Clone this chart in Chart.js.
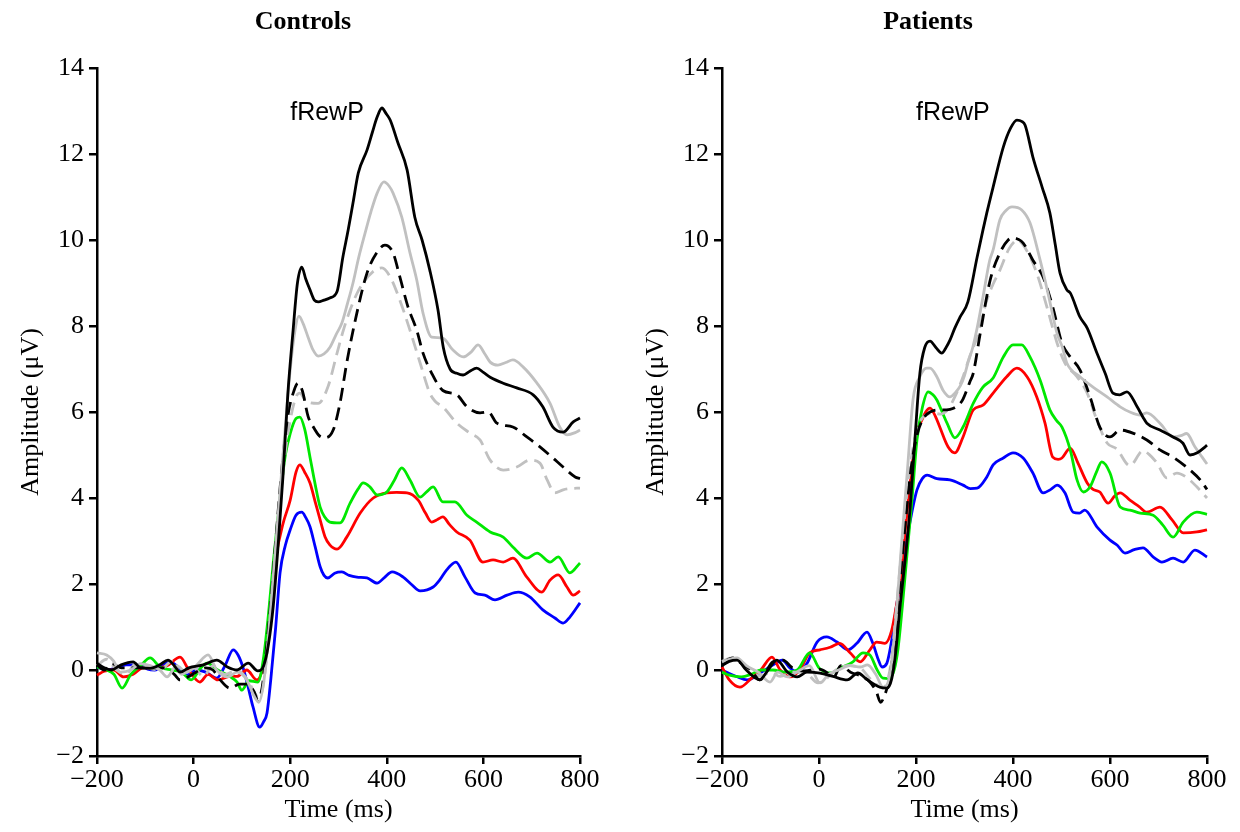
<!DOCTYPE html>
<html><head><meta charset="utf-8">
<script src="https://cdn.jsdelivr.net/npm/chart.js@4"></script>
<style>
html,body{margin:0;padding:0;background:#fff;}
#wrap{position:relative;width:1240px;height:832px;overflow:hidden;}
.panel{position:absolute;top:0;width:620px;height:832px;}
canvas{display:block;}
</style></head><body>
<div id="wrap">
<div class="panel" style="left:0"><canvas id="c1" width="620" height="832"></canvas></div>
<div class="panel" style="left:620px"><canvas id="c2" width="620" height="832"></canvas></div>
</div>
<script>
// ---- axis ticks ----
const xTicks = [-200, 0, 200, 400, 600, 800];
const yTicks = [-2, 0, 2, 4, 6, 8, 10, 12, 14];
const panelTitles = ["Controls", "Patients"];
const componentLabel = "fRewP";
const componentLabelPos = [200, 12.8];

// ---- Controls: [time ms, amplitude µV] ----
const ctrlBlackSolid = [[-200,0.16],[-185,0.05],[-170,0.0],[-150,0.12],[-125,0.19],[-110,0.05],[-90,0.04],[-70,0.12],[-53,0.23],[-40,0.1],[-28,-0.05],[-10,0.05],[20,0.12],[48,0.23],[70,0.07],[90,0.0],[113,0.16],[133,-0.02],[145,0.1],[155,0.6],[165,1.5],[175,2.9],[185,4.5],[195,6.4],[206,7.9],[215,9.0],[224,9.37],[232,9.1],[241,8.84],[250,8.6],[258,8.56],[270,8.6],[282,8.65],[297,8.8],[309,9.6],[320,10.23],[330,10.86],[341,11.56],[359,12.09],[370,12.5],[380,12.86],[390,13.07],[398,12.95],[407,12.79],[423,12.26],[442,11.63],[458,10.53],[473,10.0],[489,9.3],[506,8.37],[517,7.5],[531,7.0],[545,6.9],[558,6.86],[572,6.95],[586,7.02],[600,6.92],[614,6.81],[641,6.67],[669,6.56],[703,6.4],[723,6.12],[744,5.65],[765,5.53],[786,5.77],[800,5.86]];
const ctrlGraySolid = [[-200,0.4],[-180,0.35],[-165,0.2],[-152,-0.05],[-130,0.0],[-110,0.15],[-90,0.1],[-70,0.0],[-55,-0.16],[-35,0.1],[-15,-0.05],[5,0.1],[30,0.35],[48,0.0],[70,-0.16],[90,-0.05],[110,-0.23],[125,-0.6],[135,-0.75],[145,-0.3],[155,0.8],[165,2.2],[175,3.6],[188,5.4],[200,6.98],[210,7.9],[218,8.23],[227,8.05],[237,7.74],[247,7.45],[258,7.3],[270,7.35],[282,7.5],[295,7.8],[307,8.07],[318,8.5],[330,9.0],[342,9.6],[355,10.16],[367,10.65],[380,11.09],[394,11.35],[405,11.25],[413,11.09],[431,10.53],[448,9.7],[462,9.07],[475,8.3],[493,7.74],[505,7.73],[516,7.72],[537,7.44],[558,7.28],[575,7.4],[589,7.56],[603,7.35],[614,7.16],[630,7.09],[646,7.15],[661,7.21],[682,7.05],[711,6.67],[738,6.2],[758,5.65],[773,5.47],[790,5.52],[800,5.58]];
const ctrlBlackDashed = [[-200,0.12],[-185,0.0],[-170,0.15],[-150,0.05],[-122,0.05],[-90,0.05],[-60,0.05],[-40,-0.1],[-28,-0.23],[-10,-0.15],[5,-0.05],[25,0.05],[40,0.0],[55,-0.23],[75,-0.42],[95,-0.33],[112,-0.33],[125,-0.5],[133,-0.7],[142,-0.4],[150,0.4],[160,1.6],[170,3.0],[182,4.6],[195,5.9],[208,6.5],[216,6.67],[225,6.5],[237,5.9],[248,5.65],[260,5.45],[272,5.4],[289,5.58],[303,6.2],[317,7.14],[338,8.3],[359,9.23],[380,9.72],[396,9.88],[413,9.7],[427,9.14],[444,8.44],[462,7.9],[475,7.37],[493,6.9],[516,6.5],[545,6.4],[566,6.12],[593,5.98],[610,6.0],[628,5.74],[661,5.65],[690,5.42],[717,5.19],[742,4.95],[765,4.72],[790,4.49],[800,4.45]];
const ctrlGrayDashed = [[-200,0.1],[-180,0.25],[-160,0.0],[-140,-0.1],[-120,0.15],[-95,0.05],[-70,0.0],[-45,0.2],[-25,-0.1],[0,0.05],[20,-0.15],[40,0.1],[65,-0.1],[90,0.0],[110,-0.2],[125,-0.5],[135,-0.65],[145,-0.3],[153,0.5],[163,1.8],[175,3.4],[188,4.9],[200,5.8],[212,6.35],[220,6.44],[230,6.3],[237,6.23],[258,6.2],[278,6.58],[297,7.37],[310,7.9],[324,8.37],[338,8.75],[351,9.0],[371,9.26],[390,9.35],[407,9.14],[427,8.6],[448,7.9],[469,7.14],[489,6.44],[500,6.25],[516,6.12],[545,5.74],[572,5.51],[593,5.35],[614,4.88],[641,4.65],[669,4.72],[696,4.88],[717,4.81],[732,4.42],[748,4.12],[765,4.19],[781,4.22],[800,4.23]];
const ctrlGreen = [[-200,0.07],[-180,0.0],[-165,-0.1],[-148,-0.42],[-130,-0.1],[-110,0.1],[-90,0.28],[-70,0.07],[-45,0.0],[-25,-0.05],[-5,-0.23],[15,0.05],[28,0.16],[50,0.0],[75,-0.15],[90,-0.28],[100,-0.47],[115,-0.25],[133,-0.28],[145,0.3],[155,1.3],[165,2.5],[178,3.9],[190,5.0],[200,5.5],[212,5.85],[220,5.88],[230,5.6],[241,4.95],[252,4.3],[262,3.79],[272,3.55],[282,3.44],[303,3.42],[324,3.88],[340,4.2],[351,4.35],[365,4.26],[380,4.07],[400,4.14],[415,4.4],[431,4.7],[448,4.42],[469,4.02],[483,4.15],[496,4.26],[516,3.91],[541,3.91],[566,3.6],[586,3.44],[614,3.21],[641,3.09],[661,2.86],[690,2.6],[711,2.72],[738,2.51],[755,2.63],[779,2.26],[800,2.49]];
const ctrlRed = [[-200,-0.12],[-185,-0.03],[-165,0.0],[-145,-0.16],[-125,-0.1],[-105,0.05],[-80,0.05],[-55,0.1],[-28,0.3],[-10,0.0],[13,-0.28],[30,-0.1],[50,-0.23],[75,-0.15],[90,-0.15],[110,0.0],[131,-0.23],[142,0.0],[150,0.6],[160,1.6],[170,2.6],[185,3.4],[200,3.95],[212,4.6],[220,4.77],[230,4.6],[241,4.35],[252,3.9],[262,3.49],[272,3.1],[282,2.91],[297,2.81],[317,3.09],[345,3.65],[372,4.0],[400,4.12],[420,4.13],[442,4.12],[465,3.95],[480,3.65],[493,3.44],[505,3.5],[516,3.56],[530,3.38],[545,3.21],[572,3.02],[599,2.51],[620,2.56],[641,2.51],[661,2.6],[690,2.16],[721,1.81],[738,2.09],[755,2.21],[773,1.93],[786,1.74],[800,1.84]];
const ctrlBlue = [[-200,0.07],[-180,0.0],[-160,0.05],[-140,0.12],[-111,0.12],[-95,0.02],[-80,0.0],[-65,0.1],[-49,0.19],[-30,0.05],[-14,-0.12],[5,0.0],[25,-0.05],[48,-0.19],[65,0.1],[82,0.47],[92,0.35],[102,0.07],[113,-0.4],[123,-0.86],[137,-1.33],[145,-1.2],[152,-1.0],[160,-0.2],[170,1.0],[179,2.26],[190,2.9],[200,3.26],[212,3.6],[224,3.67],[232,3.55],[241,3.33],[252,2.85],[262,2.4],[270,2.2],[278,2.14],[292,2.25],[307,2.28],[322,2.2],[338,2.16],[359,2.14],[380,2.02],[395,2.15],[411,2.28],[434,2.16],[450,2.0],[469,1.84],[496,1.93],[510,2.1],[524,2.33],[543,2.51],[562,2.16],[583,1.79],[603,1.74],[624,1.63],[649,1.74],[672,1.81],[696,1.7],[723,1.4],[748,1.21],[765,1.09],[779,1.23],[800,1.56]];

// ---- Patients: [time ms, amplitude µV] ----
const patBlackSolid = [[-200,0.1],[-185,0.2],[-169,0.23],[-150,0.0],[-122,-0.23],[-105,0.0],[-87,0.23],[-65,-0.05],[-45,-0.16],[-25,-0.05],[2,-0.07],[29,-0.15],[58,-0.23],[80,-0.07],[100,-0.23],[126,-0.4],[140,-0.42],[150,-0.2],[158,0.4],[167,1.47],[178,2.6],[188,3.79],[198,5.4],[208,6.9],[218,7.5],[229,7.65],[241,7.5],[253,7.37],[262,7.5],[270,7.67],[280,7.95],[291,8.21],[307,8.56],[326,9.6],[338,10.23],[346,10.63],[359,11.23],[380,12.16],[395,12.6],[408,12.79],[418,12.76],[425,12.67],[441,11.93],[460,11.23],[476,10.63],[487,9.9],[497,9.23],[511,8.84],[518,8.77],[538,8.21],[553,7.95],[573,7.37],[590,6.9],[606,6.44],[620,6.4],[635,6.47],[656,6.12],[668,5.88],[676,5.74],[703,5.58],[730,5.42],[750,5.28],[765,5.0],[780,5.05],[796,5.19],[800,5.23]];
const patGraySolid = [[-200,0.19],[-185,0.25],[-169,0.28],[-150,0.1],[-125,-0.05],[-101,-0.28],[-85,-0.05],[-65,-0.16],[-39,0.0],[-20,0.1],[2,-0.3],[20,-0.1],[40,0.0],[64,0.1],[85,0.07],[100,0.12],[117,-0.1],[132,-0.4],[142,-0.3],[150,0.2],[160,1.4],[170,2.9],[182,4.6],[194,6.3],[208,6.82],[222,7.02],[229,7.02],[243,6.82],[256,6.5],[270,6.35],[281,6.45],[291,6.6],[300,6.85],[307,7.14],[317,7.5],[326,7.95],[338,8.67],[352,9.53],[359,9.77],[373,10.47],[385,10.68],[398,10.77],[418,10.7],[435,10.4],[456,9.53],[472,8.77],[491,7.82],[502,7.5],[511,7.14],[538,6.82],[565,6.58],[594,6.35],[621,6.12],[641,6.0],[662,5.93],[676,5.98],[703,5.74],[730,5.42],[746,5.45],[758,5.5],[775,5.19],[790,4.95],[800,4.79]];
const patBlackDashed = [[-200,0.16],[-177,0.28],[-160,0.15],[-140,0.0],[-122,-0.23],[-95,0.19],[-74,0.23],[-55,0.05],[-30,-0.02],[0,0.02],[15,-0.05],[29,-0.19],[45,0.1],[65,-0.05],[88,-0.15],[105,-0.28],[118,-0.5],[127,-0.75],[135,-0.6],[145,-0.2],[155,0.6],[165,1.8],[177,3.3],[190,4.7],[203,5.5],[215,5.85],[229,6.0],[249,6.05],[264,6.05],[276,6.08],[291,6.2],[297,6.3],[311,6.7],[318,6.9],[332,7.8],[353,9.07],[373,9.7],[390,10.0],[400,10.05],[410,10.02],[421,9.93],[441,9.53],[462,9.14],[482,8.44],[501,7.6],[518,7.28],[538,6.98],[559,6.35],[579,5.65],[600,5.42],[621,5.58],[647,5.51],[676,5.35],[703,5.12],[730,4.95],[765,4.65],[786,4.42],[800,4.2]];
const patGrayDashed = [[-200,0.2],[-180,0.28],[-160,0.2],[-140,0.0],[-120,-0.15],[-100,-0.05],[-80,-0.15],[-55,-0.05],[-30,-0.05],[-2,-0.3],[15,-0.2],[35,0.0],[60,0.1],[85,0.05],[105,-0.2],[120,-0.35],[130,-0.42],[140,-0.3],[150,0.3],[160,1.5],[172,3.0],[185,4.5],[198,5.4],[212,5.85],[225,5.95],[235,5.98],[250,5.95],[265,6.05],[280,6.35],[297,6.82],[311,7.3],[326,7.74],[346,8.6],[360,9.0],[373,9.3],[392,9.8],[410,10.0],[420,9.9],[431,9.7],[449,9.23],[470,8.44],[491,7.6],[507,7.14],[532,6.82],[553,6.44],[573,5.81],[594,5.28],[614,5.14],[641,4.75],[668,5.1],[680,5.02],[697,4.81],[717,4.47],[738,4.58],[759,4.47],[779,4.26],[800,4.0]];
const patGreen = [[-200,-0.05],[-185,-0.12],[-160,-0.16],[-140,-0.1],[-120,0.0],[-95,0.0],[-70,-0.05],[-45,0.0],[-19,0.4],[0,0.05],[23,-0.07],[45,0.05],[70,0.19],[91,0.4],[105,0.35],[120,0.0],[132,-0.19],[145,-0.2],[155,0.0],[163,0.5],[172,1.5],[181,2.63],[192,4.0],[202,5.35],[213,6.1],[225,6.47],[235,6.4],[243,6.28],[254,6.0],[264,5.74],[280,5.4],[297,5.65],[318,6.2],[338,6.58],[359,6.79],[380,7.28],[400,7.56],[418,7.56],[435,7.28],[456,6.74],[476,6.05],[490,5.8],[501,5.65],[518,5.12],[532,4.42],[545,4.14],[559,4.26],[572,4.6],[583,4.84],[600,4.58],[621,3.79],[641,3.72],[662,3.65],[689,3.6],[709,3.37],[730,3.09],[751,3.44],[779,3.67],[800,3.62]];
const patRed = [[-200,0.07],[-185,-0.23],[-163,-0.4],[-140,-0.2],[-120,0.0],[-97,0.3],[-80,0.0],[-60,-0.16],[-40,0.0],[-19,0.4],[2,0.47],[23,0.53],[43,0.62],[64,0.4],[85,0.19],[105,0.47],[119,0.65],[136,0.62],[150,0.93],[158,1.4],[167,2.02],[180,3.5],[194,4.95],[204,5.6],[212,5.81],[220,6.0],[229,6.09],[240,5.9],[249,5.65],[266,5.19],[280,5.05],[297,5.42],[318,6.05],[338,6.16],[359,6.44],[387,6.82],[408,7.02],[429,6.82],[449,6.35],[466,5.74],[482,4.95],[493,4.9],[501,4.93],[518,5.16],[534,4.81],[553,4.35],[565,4.2],[579,4.14],[596,3.88],[610,4.05],[621,4.12],[641,3.95],[660,3.8],[676,3.67],[703,3.79],[728,3.49],[751,3.19],[779,3.21],[800,3.26]];
const patBlue = [[-200,0.0],[-185,-0.08],[-170,-0.15],[-148,-0.23],[-125,-0.1],[-105,0.05],[-90,0.15],[-76,0.23],[-60,0.05],[-45,-0.05],[-25,0.15],[-4,0.65],[16,0.77],[37,0.65],[60,0.47],[78,0.62],[99,0.88],[111,0.62],[122,0.25],[130,0.07],[140,0.16],[150,0.7],[160,1.5],[170,2.2],[181,3.02],[192,3.7],[202,4.19],[213,4.45],[223,4.53],[243,4.45],[270,4.42],[297,4.3],[312,4.22],[326,4.23],[346,4.49],[359,4.77],[380,4.93],[400,5.05],[421,4.93],[441,4.58],[462,4.12],[478,4.2],[491,4.3],[507,4.12],[524,3.67],[537,3.65],[548,3.72],[573,3.33],[600,3.02],[615,2.9],[631,2.72],[650,2.8],[668,2.84],[690,2.62],[707,2.51],[730,2.6],[751,2.51],[775,2.79],[800,2.63]];

// ---- styles ----
const BLACK = '#000000', GRAY = '#c0c0c0', GREEN = '#00e800', RED = '#ff0000', BLUE = '#0000ff';
const DASH = [13, 7];
const SERIF = "'Liberation Serif', 'Times New Roman', serif";
const SANS = "'Liberation Sans', Arial, sans-serif";

function minus(v) { return v < 0 ? '\u2212' + Math.abs(v) : String(v); }

function ds(data, color, dashed) {
  return {
    data: data.map(p => ({x: p[0], y: p[1]})),
    borderColor: color,
    borderWidth: 2.8,
    borderDash: dashed ? DASH : [],
    pointRadius: 0,
    fill: false,
    cubicInterpolationMode: 'monotone',
    clip: false
  };
}

const panelDecor = {
  id: 'panelDecor',
  afterDraw(chart, args, opts) {
    const ctx = chart.ctx, a = chart.chartArea;
    ctx.save();
    ctx.fillStyle = '#000';
    ctx.font = 'bold 26px ' + SERIF;
    ctx.textAlign = 'center';
    ctx.textBaseline = 'middle';
    ctx.fillText(opts.title, a.left + 206, 22);
    ctx.font = '25px ' + SANS;
    ctx.textAlign = 'left';
    ctx.textBaseline = 'alphabetic';
    ctx.fillText(componentLabel, chart.scales.x.getPixelForValue(componentLabelPos[0]), chart.scales.y.getPixelForValue(componentLabelPos[1]));
    ctx.restore();
  }
};

function makeChart(id, title, series, yAxisWidth, rightPad, yTitlePad) {
  return new Chart(document.getElementById(id), {
    type: 'line',
    data: { datasets: series },
    plugins: [panelDecor],
    options: {
      responsive: false,
      animation: false,
      events: [],
      layout: { padding: { top: 68, right: rightPad, bottom: 0, left: 0 } },
      plugins: { legend: { display: false }, tooltip: { enabled: false }, title: { display: false }, panelDecor: { title: title } },
      scales: {
        x: {
          type: 'linear', min: -200, max: 800,
          afterBuildTicks: s => { s.ticks = xTicks.map(v => ({value: v})); },
          afterFit: s => { s.height = 76; },
          ticks: { callback: minus, color: '#000', font: { family: SERIF, size: 26 }, padding: 1, maxRotation: 0, autoSkip: false },
          grid: { drawOnChartArea: false, drawTicks: true, tickLength: 8, color: '#000', lineWidth: 2.5 },
          border: { display: true, color: '#000', width: 2.5 },
          title: { display: true, text: 'Time (ms)', color: '#000', font: { family: SERIF, size: 26 }, padding: { top: 0, bottom: 6 } }
        },
        y: {
          type: 'linear', min: -2, max: 14,
          afterBuildTicks: s => { s.ticks = yTicks.map(v => ({value: v})); },
          afterFit: s => { s.width = yAxisWidth; },
          ticks: { callback: minus, color: '#000', font: { family: SERIF, size: 26 }, padding: 5, autoSkip: false },
          grid: { drawOnChartArea: false, drawTicks: true, tickLength: 8, color: '#000', lineWidth: 2.5 },
          border: { display: true, color: '#000', width: 2.5 },
          title: { display: true, text: 'Amplitude (\u03bcV)', color: '#000', font: { family: SERIF, size: 26 }, padding: { top: yTitlePad, bottom: 0 } }
        }
      }
    }
  });
}

makeChart('c1', panelTitles[0], [
  ds(ctrlBlackSolid, BLACK, false),
  ds(ctrlGraySolid, GRAY, false),
  ds(ctrlBlackDashed, BLACK, true),
  ds(ctrlGrayDashed, GRAY, true),
  ds(ctrlGreen, GREEN, false),
  ds(ctrlRed, RED, false),
  ds(ctrlBlue, BLUE, false)
], 97, 40, 16);

makeChart('c2', panelTitles[1], [
  ds(patBlackSolid, BLACK, false),
  ds(patGraySolid, GRAY, false),
  ds(patBlackDashed, BLACK, true),
  ds(patGrayDashed, GRAY, true),
  ds(patGreen, GREEN, false),
  ds(patRed, RED, false),
  ds(patBlue, BLUE, false)
], 102, 33, 21);
</script>
</body></html>
